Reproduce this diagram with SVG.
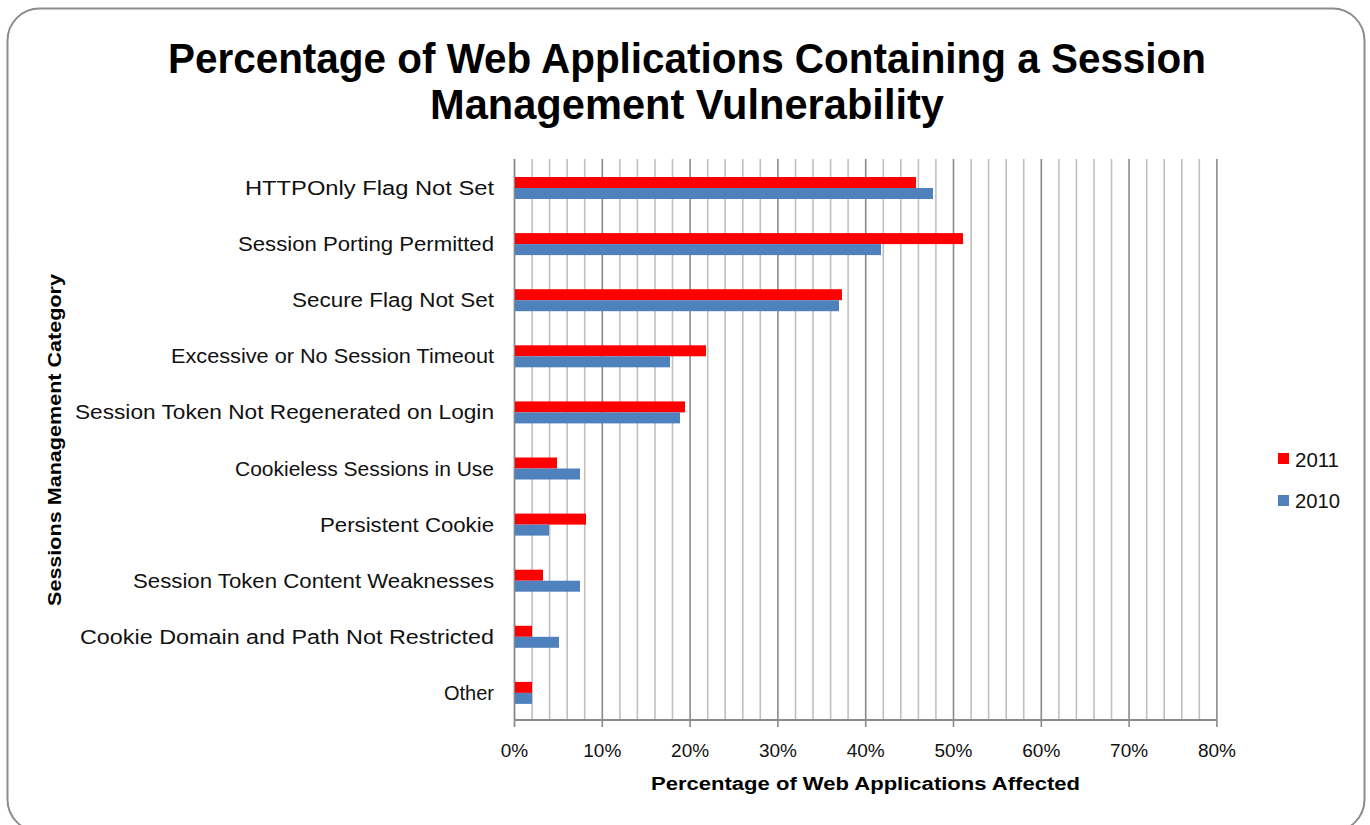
<svg xmlns="http://www.w3.org/2000/svg" width="1370" height="825" viewBox="0 0 1370 825">
  <defs>
    <style>
      .frame { fill: #ffffff; stroke: #8c8c8c; stroke-width: 2; }
      .minor { stroke: #c0c0c0; stroke-width: 1.6; }
      .major { stroke: #8a8a8a; stroke-width: 1.6; }
      .axis { stroke: #8a8a8a; stroke-width: 1.8; fill: none; }
      .r { fill: #ff0000; }
      .b { fill: #4f81bd; }
      .title { font-family: "Liberation Sans", Arial, sans-serif; font-weight: bold; font-size: 42px; fill: #000; text-anchor: middle; }
      .cat { font-family: "Liberation Sans", Arial, sans-serif; font-size: 20px; fill: #111; text-anchor: end; }
      .tick { font-family: "Liberation Sans", Arial, sans-serif; font-size: 19px; fill: #111; text-anchor: middle; }
      .atitle { font-family: "Liberation Sans", Arial, sans-serif; font-weight: bold; font-size: 18px; fill: #000; text-anchor: middle; }
      .leg { font-family: "Liberation Sans", Arial, sans-serif; font-size: 20px; fill: #111; }
    </style>
  </defs>

  <!-- chart frame -->
  <rect class="frame" x="7.5" y="8.5" width="1357" height="823" rx="32" ry="32"/>

  <!-- title -->
  <g id="title">
    <text class="title" x="687" y="73" textLength="1038" lengthAdjust="spacingAndGlyphs">Percentage of Web Applications Containing a Session</text>
    <text class="title" x="687" y="119" textLength="514" lengthAdjust="spacingAndGlyphs">Management Vulnerability</text>
  </g>

  <!-- gridlines every 2% -->
  <g id="grid">
    <line class="minor" x1="532.1" y1="159" x2="532.1" y2="720"/>
    <line class="minor" x1="549.6" y1="159" x2="549.6" y2="720"/>
    <line class="minor" x1="567.2" y1="159" x2="567.2" y2="720"/>
    <line class="minor" x1="584.7" y1="159" x2="584.7" y2="720"/>
    <line class="major" x1="602.3" y1="159" x2="602.3" y2="727"/>
    <line class="minor" x1="619.9" y1="159" x2="619.9" y2="720"/>
    <line class="minor" x1="637.4" y1="159" x2="637.4" y2="720"/>
    <line class="minor" x1="655.0" y1="159" x2="655.0" y2="720"/>
    <line class="minor" x1="672.5" y1="159" x2="672.5" y2="720"/>
    <line class="major" x1="690.1" y1="159" x2="690.1" y2="727"/>
    <line class="minor" x1="707.7" y1="159" x2="707.7" y2="720"/>
    <line class="minor" x1="725.2" y1="159" x2="725.2" y2="720"/>
    <line class="minor" x1="742.8" y1="159" x2="742.8" y2="720"/>
    <line class="minor" x1="760.3" y1="159" x2="760.3" y2="720"/>
    <line class="major" x1="777.9" y1="159" x2="777.9" y2="727"/>
    <line class="minor" x1="795.5" y1="159" x2="795.5" y2="720"/>
    <line class="minor" x1="813.0" y1="159" x2="813.0" y2="720"/>
    <line class="minor" x1="830.6" y1="159" x2="830.6" y2="720"/>
    <line class="minor" x1="848.1" y1="159" x2="848.1" y2="720"/>
    <line class="major" x1="865.7" y1="159" x2="865.7" y2="727"/>
    <line class="minor" x1="883.3" y1="159" x2="883.3" y2="720"/>
    <line class="minor" x1="900.8" y1="159" x2="900.8" y2="720"/>
    <line class="minor" x1="918.4" y1="159" x2="918.4" y2="720"/>
    <line class="minor" x1="935.9" y1="159" x2="935.9" y2="720"/>
    <line class="major" x1="953.5" y1="159" x2="953.5" y2="727"/>
    <line class="minor" x1="971.1" y1="159" x2="971.1" y2="720"/>
    <line class="minor" x1="988.6" y1="159" x2="988.6" y2="720"/>
    <line class="minor" x1="1006.2" y1="159" x2="1006.2" y2="720"/>
    <line class="minor" x1="1023.7" y1="159" x2="1023.7" y2="720"/>
    <line class="major" x1="1041.3" y1="159" x2="1041.3" y2="727"/>
    <line class="minor" x1="1058.9" y1="159" x2="1058.9" y2="720"/>
    <line class="minor" x1="1076.4" y1="159" x2="1076.4" y2="720"/>
    <line class="minor" x1="1094.0" y1="159" x2="1094.0" y2="720"/>
    <line class="minor" x1="1111.5" y1="159" x2="1111.5" y2="720"/>
    <line class="major" x1="1129.1" y1="159" x2="1129.1" y2="727"/>
    <line class="minor" x1="1146.7" y1="159" x2="1146.7" y2="720"/>
    <line class="minor" x1="1164.2" y1="159" x2="1164.2" y2="720"/>
    <line class="minor" x1="1181.8" y1="159" x2="1181.8" y2="720"/>
    <line class="minor" x1="1199.3" y1="159" x2="1199.3" y2="720"/>
    <line class="major" x1="1216.9" y1="159" x2="1216.9" y2="727"/>
  </g>

  <!-- axes -->
  <g id="axes">
    <line class="axis" x1="514.5" y1="159" x2="514.5" y2="727"/>
    <line class="axis" x1="514.5" y1="720" x2="1216.9" y2="720"/>
  </g>

  <!-- bars: red = 2011, blue = 2010 -->
  <g id="bars">
    <g id="bar-httponly"><rect class="r" x="515" y="177" width="401" height="11"/><rect class="b" x="515" y="188" width="418" height="11"/></g>
    <g id="bar-porting"><rect class="r" x="515" y="233.1" width="448" height="11"/><rect class="b" x="515" y="244.1" width="366" height="11"/></g>
    <g id="bar-secure"><rect class="r" x="515" y="289.2" width="327" height="11"/><rect class="b" x="515" y="300.2" width="324" height="11"/></g>
    <g id="bar-timeout"><rect class="r" x="515" y="345.3" width="191" height="11"/><rect class="b" x="515" y="356.3" width="155" height="11"/></g>
    <g id="bar-regen"><rect class="r" x="515" y="401.4" width="170" height="11"/><rect class="b" x="515" y="412.4" width="165" height="11"/></g>
    <g id="bar-cookieless"><rect class="r" x="515" y="457.5" width="42" height="11"/><rect class="b" x="515" y="468.5" width="65" height="11"/></g>
    <g id="bar-persistent"><rect class="r" x="515" y="513.6" width="71" height="11"/><rect class="b" x="515" y="524.6" width="34" height="11"/></g>
    <g id="bar-content"><rect class="r" x="515" y="569.7" width="28" height="11"/><rect class="b" x="515" y="580.7" width="65" height="11"/></g>
    <g id="bar-domain"><rect class="r" x="515" y="625.8" width="17" height="11"/><rect class="b" x="515" y="636.8" width="44" height="11"/></g>
    <g id="bar-other"><rect class="r" x="515" y="681.9" width="17" height="11"/><rect class="b" x="515" y="692.9" width="17" height="11"/></g>
  </g>

  <!-- category labels -->
  <g id="categories">
    <text class="cat" x="494" y="195" textLength="249" lengthAdjust="spacingAndGlyphs">HTTPOnly Flag Not Set</text>
    <text class="cat" x="494" y="251.1" textLength="256" lengthAdjust="spacingAndGlyphs">Session Porting Permitted</text>
    <text class="cat" x="494" y="307.2" textLength="202" lengthAdjust="spacingAndGlyphs">Secure Flag Not Set</text>
    <text class="cat" x="494" y="363.3" textLength="323" lengthAdjust="spacingAndGlyphs">Excessive or No Session Timeout</text>
    <text class="cat" x="494" y="419.4" textLength="419" lengthAdjust="spacingAndGlyphs">Session Token Not Regenerated on Login</text>
    <text class="cat" x="494" y="475.5" textLength="259" lengthAdjust="spacingAndGlyphs">Cookieless Sessions in Use</text>
    <text class="cat" x="494" y="531.6" textLength="174" lengthAdjust="spacingAndGlyphs">Persistent Cookie</text>
    <text class="cat" x="494" y="587.7" textLength="361" lengthAdjust="spacingAndGlyphs">Session Token Content Weaknesses</text>
    <text class="cat" x="494" y="643.8" textLength="414" lengthAdjust="spacingAndGlyphs">Cookie Domain and Path Not Restricted</text>
    <text class="cat" x="494" y="699.9">Other</text>
  </g>

  <!-- value axis labels -->
  <g id="ticks">
    <text class="tick" x="514.5" y="757">0%</text>
    <text class="tick" x="602.3" y="757">10%</text>
    <text class="tick" x="690.1" y="757">20%</text>
    <text class="tick" x="777.9" y="757">30%</text>
    <text class="tick" x="865.7" y="757">40%</text>
    <text class="tick" x="953.5" y="757">50%</text>
    <text class="tick" x="1041.3" y="757">60%</text>
    <text class="tick" x="1129.1" y="757">70%</text>
    <text class="tick" x="1216.9" y="757">80%</text>
  </g>

  <!-- axis titles -->
  <g id="axis-titles">
    <text class="atitle" x="865.5" y="790" textLength="429" lengthAdjust="spacingAndGlyphs">Percentage of Web Applications Affected</text>
    <text class="atitle" transform="translate(61,440) rotate(-90)" x="0" y="0" textLength="332" lengthAdjust="spacingAndGlyphs">Sessions Management Category</text>
  </g>

  <!-- legend -->
  <g id="legend">
    <rect class="r" x="1278" y="453" width="11" height="11"/>
    <text class="leg" x="1295" y="467" textLength="44" lengthAdjust="spacingAndGlyphs">2011</text>
    <rect class="b" x="1278" y="495" width="11" height="11"/>
    <text class="leg" x="1295" y="508" textLength="45" lengthAdjust="spacingAndGlyphs">2010</text>
  </g>
</svg>
